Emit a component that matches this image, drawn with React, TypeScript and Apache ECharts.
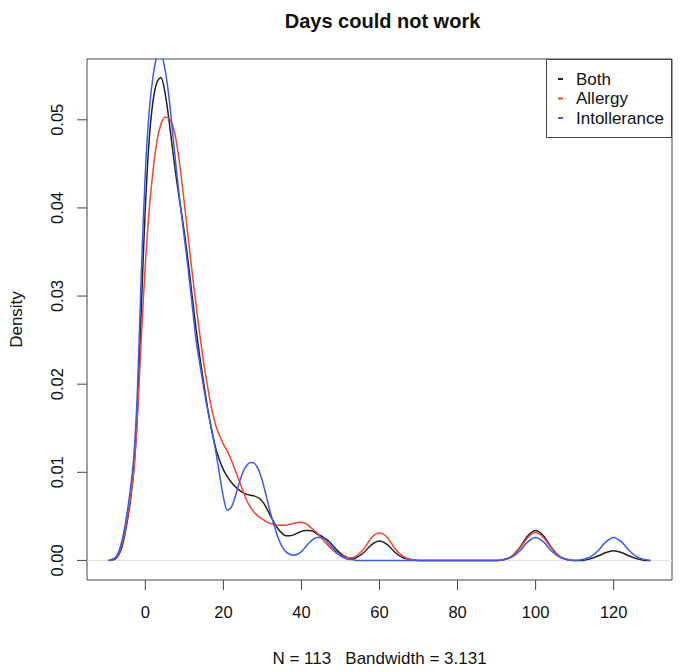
import React, { useEffect, useRef } from "react";
import * as echarts from "echarts";

const TITLE = "Days could not work";
const X_NAME = "N = 113   Bandwidth = 3.131";
const Y_NAME = "Density";
const SERIES_NAMES = ["Both", "Allergy", "Intollerance"];
const SERIES_COLORS = ["#222222", "#f2442f", "#3b5bf0"];
const X_TICKS = [0, 20, 40, 60, 80, 100, 120];
const Y_TICKS = [0, 0.01, 0.02, 0.03, 0.04, 0.05];

const xs = [
  -9.4, -8, -7, -6, -5, -4, -3, -2, -1, 0, 1, 2, 3, 4, 5, 6, 7, 8, 9, 10,
  11, 12, 13, 14, 15, 16, 17, 18, 19, 20, 21, 22, 23, 24, 25, 26, 27, 28, 29, 30,
  31, 32, 33, 34, 35, 36, 37, 38, 39, 40, 41, 42, 43, 44, 45, 46, 47, 48, 49, 50,
  51, 52, 53, 54, 56, 58, 60, 62, 64, 66, 68, 70, 75, 80, 85,
  90, 92, 94, 96, 98, 100, 102, 104, 106, 108, 110, 112, 114, 116, 118, 120,
  122, 124, 126, 128, 129.4,
];

const both = [
  0, 0.0001, 0.0005, 0.0015, 0.0035, 0.0062, 0.01, 0.017, 0.029, 0.04, 0.0478, 0.0522, 0.0543, 0.0548, 0.0532, 0.0502, 0.0466, 0.0432, 0.0402, 0.0372,
  0.0338, 0.03, 0.0263, 0.023, 0.02, 0.0172, 0.0148, 0.0128, 0.0114, 0.0103, 0.0095, 0.0089, 0.0084, 0.008, 0.0077, 0.0075, 0.0074, 0.0073, 0.0071, 0.0067,
  0.006, 0.0051, 0.0043, 0.0036, 0.0031, 0.0028, 0.0028, 0.0029, 0.0031, 0.0033, 0.0034, 0.0034, 0.0033, 0.003, 0.0028, 0.0025, 0.0022, 0.0017, 0.0012, 0.0008,
  0.0005, 0.0003, 0.0002, 0.0003, 0.0009, 0.0018, 0.0022, 0.0018, 0.0009, 0.0003, 0.0001, 0, 0, 0, 0,
  0, 0.0001, 0.0005, 0.0015, 0.0028, 0.0034, 0.0028, 0.0015, 0.0005, 0.0001, 0, 0, 0.0002, 0.0005, 0.0009, 0.0011,
  0.0009, 0.0005, 0.0002, 0, 0,
];

const allergy = [
  0, 0.0002, 0.0006, 0.0018, 0.0038, 0.0065, 0.01, 0.0165, 0.0255, 0.0335, 0.0398, 0.0443, 0.0476, 0.0495, 0.0503, 0.0502, 0.0494, 0.0474, 0.0443, 0.0405,
  0.0366, 0.0327, 0.029, 0.0255, 0.0223, 0.0196, 0.0172, 0.0154, 0.0142, 0.0132, 0.0124, 0.0114, 0.0103, 0.0091, 0.0079, 0.0068, 0.006, 0.0054, 0.005, 0.0047,
  0.0044, 0.0042, 0.0041, 0.004, 0.004, 0.004, 0.0041, 0.0042, 0.0043, 0.0043, 0.0042, 0.0039, 0.0035, 0.0031, 0.0026, 0.0021, 0.0016, 0.0012, 0.0008, 0.0006,
  0.0004, 0.0003, 0.0003, 0.0005, 0.0013, 0.0026, 0.0031, 0.0026, 0.0013, 0.0005, 0.0001, 0, 0, 0, 0,
  0, 0.0001, 0.0005, 0.0014, 0.0026, 0.0032, 0.0026, 0.0014, 0.0005, 0.0001, 0, null, null, null, null, null,
  null, null, null, null, null,
];

const intollerance = [
  0, 0.0002, 0.0008, 0.0022, 0.0045, 0.0075, 0.0115, 0.0195, 0.033, 0.044, 0.051, 0.055, 0.0572, 0.0574, 0.0558, 0.0528, 0.0485, 0.0442, 0.0402, 0.0366,
  0.033, 0.029, 0.025, 0.0222, 0.0195, 0.017, 0.0148, 0.0125, 0.0098, 0.0072, 0.0057, 0.006, 0.0072, 0.0087, 0.01, 0.0108, 0.0111, 0.011, 0.0103, 0.009,
  0.0073, 0.0055, 0.004, 0.0026, 0.0016, 0.001, 0.0007, 0.0006, 0.0007, 0.001, 0.0015, 0.002, 0.0024, 0.0026, 0.0026, 0.0024, 0.0019, 0.0014, 0.0009, 0.0005,
  0.0003, 0.0001, 0.0001, 0, 0, 0, 0, 0, 0, 0, 0, 0, 0, 0, 0,
  0, 0.0001, 0.0004, 0.0011, 0.0021, 0.0026, 0.0021, 0.0011, 0.0004, 0.0001, 0, 0.0001, 0.0004, 0.0011, 0.0021, 0.0026,
  0.0021, 0.0011, 0.0004, 0.0001, 0,
];

const SERIES_VALUES = [both, allergy, intollerance];
const FONT = "'Liberation Sans', Arial, Helvetica, sans-serif";
const X_MIN = -14.94;
const X_MAX = 134.94;
const Y_MIN = -0.00222;
const Y_MAX = 0.0569;

export default function App() {
  const ref = useRef<HTMLDivElement>(null);

  useEffect(() => {
    if (!ref.current) return;
    const chart = echarts.init(ref.current, undefined, { renderer: "svg" });

    const series: any[] = SERIES_NAMES.map((name, i) => ({
      name,
      type: "line",
      data: xs.map((x, j) => [x, SERIES_VALUES[i][j]]),
      showSymbol: false,
      smooth: 0.3,
      connectNulls: false,
      clip: true,
      z: 3 + i,
      lineStyle: { color: SERIES_COLORS[i], width: 1.5 },
      itemStyle: { color: SERIES_COLORS[i] },
      ...(i === 0
        ? {
            markLine: {
              silent: true,
              symbol: "none",
              label: { show: false },
              lineStyle: { color: "#e2e2e2", type: "solid", width: 1 },
              data: [{ yAxis: 0 }],
              z: 1,
            },
          }
        : {}),
    }));

    // axis ticks positioned through the chart's own scales
    series.push({
      type: "custom",
      name: "x ticks",
      silent: true,
      clip: false,
      z: 10,
      data: X_TICKS.map((v) => [v, Y_MIN]),
      encode: { x: 0, y: 1 },
      renderItem: (_p: any, api: any) => {
        const pt = api.coord([api.value(0), api.value(1)]);
        return {
          type: "line",
          shape: { x1: pt[0], y1: pt[1], x2: pt[0], y2: pt[1] + 10 },
          style: { stroke: "#444", lineWidth: 1 },
        };
      },
    });
    series.push({
      type: "custom",
      name: "y ticks",
      silent: true,
      clip: false,
      z: 10,
      data: Y_TICKS.map((v) => [X_MIN, v]),
      encode: { x: 0, y: 1 },
      renderItem: (_p: any, api: any) => {
        const pt = api.coord([api.value(0), api.value(1)]);
        return {
          type: "line",
          shape: { x1: pt[0], y1: pt[1], x2: pt[0] - 10, y2: pt[1] },
          style: { stroke: "#444", lineWidth: 1 },
        };
      },
    });

    const legendY = [79, 98.5, 118];
    const graphic: any[] = [
      {
        type: "rect",
        shape: { x: 546.5, y: 59.5, width: 125, height: 78 },
        style: { fill: "#fff", stroke: "#444", lineWidth: 1 },
        z: 100,
      },
    ];
    SERIES_NAMES.forEach((name, i) => {
      graphic.push({
        type: "rect",
        shape: { x: 558, y: legendY[i] - 1, width: 5, height: 2 },
        style: { fill: SERIES_COLORS[i] },
        z: 101,
      });
      graphic.push({
        type: "text",
        x: 576,
        y: legendY[i],
        style: {
          text: name,
          fontSize: 17,
          fontFamily: FONT,
          fill: "#111",
          verticalAlign: "middle",
          align: "left",
        },
        z: 101,
      });
    });

    chart.setOption({
      animation: false,
      backgroundColor: "#fff",
      textStyle: { fontFamily: FONT },
      title: {
        text: TITLE,
        left: 377.5,
        top: 6,
        textAlign: "center",
        textStyle: { fontSize: 20, fontWeight: "bold", color: "#111", fontFamily: FONT },
      },
      grid: {
        left: 83,
        right: 13,
        top: 59,
        bottom: 88,
        show: true,
        borderColor: "#444",
        borderWidth: 1,
        backgroundColor: "transparent",
      },
      xAxis: {
        type: "value",
        min: X_MIN,
        max: X_MAX,
        axisLine: { show: false, onZero: false },
        splitLine: { show: false },
        axisTick: { show: false },
        axisLabel: {
          customValues: X_TICKS,
          fontSize: 16.5,
          color: "#111",
          margin: 23,
          fontFamily: FONT,
        },
        name: X_NAME,
        nameLocation: "middle",
        nameGap: 70,
        nameTextStyle: { fontSize: 17, color: "#111", fontFamily: FONT },
      },
      yAxis: {
        type: "value",
        min: Y_MIN,
        max: Y_MAX,
        axisLine: { show: false, onZero: false },
        splitLine: { show: false },
        axisTick: { show: false },
        axisLabel: {
          customValues: Y_TICKS,
          rotate: 90,
          fontSize: 16.5,
          color: "#111",
          margin: 22,
          fontFamily: FONT,
          formatter: (v: number) => v.toFixed(2),
        },
        name: Y_NAME,
        nameLocation: "middle",
        nameRotate: 90,
        nameGap: 62,
        nameTextStyle: { fontSize: 17, color: "#111", fontFamily: FONT },
      },
      graphic,
      series,
    });

    return () => chart.dispose();
  }, []);

  return (
    <div
      ref={ref}
      style={{ position: "absolute", left: 0, top: 0, width: 685, height: 672 }}
    />
  );
}
